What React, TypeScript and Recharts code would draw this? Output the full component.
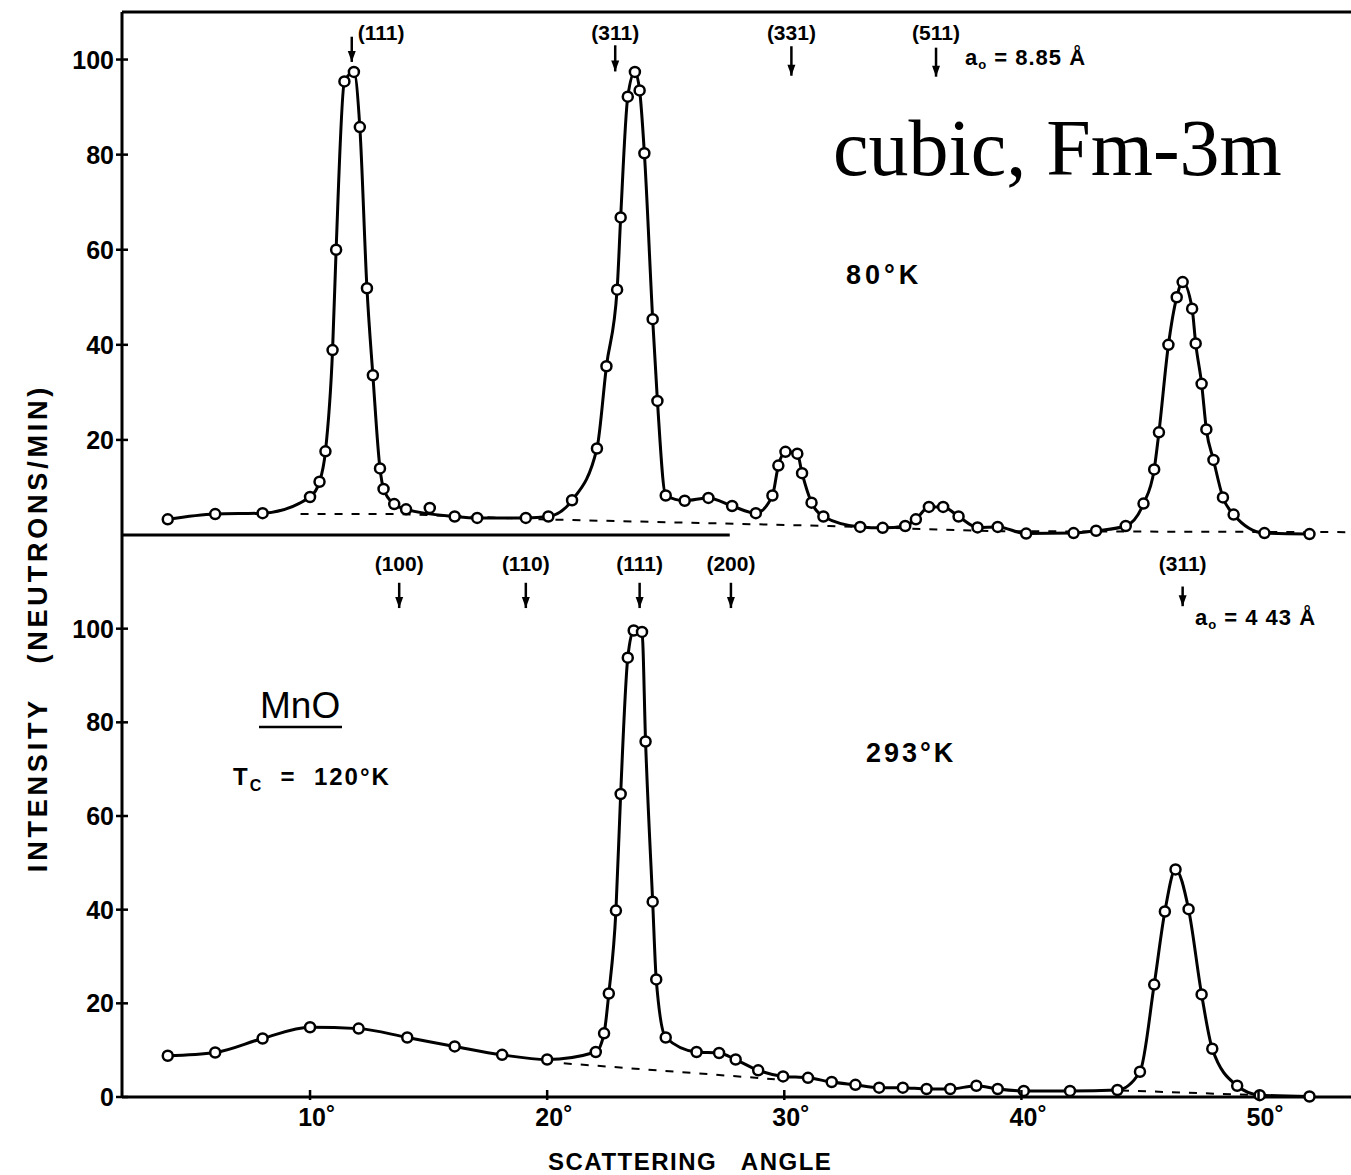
import React from "react";
import { ComposedChart, Line, XAxis, YAxis, ReferenceLine, ReferenceDot } from "recharts";

const X_MIN = 2.07;
const X_MAX = 53.9;

// 80°K run
const lowAngle = [4.0, 6.0, 8.0, 10.0, 10.4, 10.65, 10.95, 11.1, 11.45, 11.85, 12.1, 12.4, 12.65, 12.95, 13.1, 13.55, 14.05, 16.1, 17.05, 19.1, 20.05, 21.05, 22.1, 22.5, 22.95, 23.1, 23.4, 23.7, 23.9, 24.1, 24.45, 24.65, 25.0, 25.8, 26.8, 27.8, 28.8, 29.5, 29.75, 30.05, 30.55, 30.75, 31.15, 31.65, 33.2, 34.15, 35.1, 35.55, 36.1, 36.7, 37.35, 38.15, 39.0, 40.2, 42.2, 43.15, 44.4, 45.15, 45.6, 45.8, 46.2, 46.55, 46.8, 47.2, 47.35, 47.6, 47.8, 48.1, 48.5, 48.95, 50.25, 52.15];
const lowCounts = [3.3, 4.4, 4.6, 8.0, 11.2, 17.6, 38.9, 60.0, 95.4, 97.4, 85.8, 51.9, 33.6, 14.0, 9.7, 6.5, 5.4, 3.9, 3.6, 3.6, 3.9, 7.3, 18.2, 35.5, 51.6, 66.8, 92.2, 97.4, 93.5, 80.3, 45.4, 28.2, 8.3, 7.2, 7.8, 6.1, 4.6, 8.3, 14.6, 17.5, 17.1, 13.0, 6.8, 3.9, 1.7, 1.5, 1.9, 3.3, 5.9, 5.9, 3.9, 1.6, 1.7, 0.3, 0.4, 0.9, 1.9, 6.6, 13.8, 21.6, 40.0, 50.0, 53.2, 47.6, 40.3, 31.8, 22.2, 15.8, 7.9, 4.3, 0.4, 0.2];
const lowStrayAngle = [15.05];
const lowStrayCounts = [5.7];
const lowBgAngle = [9.6, 13.8, 19.7, 31.9, 38.7, 53.9];
const lowBgCounts = [4.4, 4.4, 3.3, 1.9, 0.8, 0.6];

// 293°K run
const roomAngle = [4.0, 6.0, 8.0, 10.0, 12.05, 14.1, 16.1, 18.1, 20.0, 22.05, 22.4, 22.6, 22.9, 23.1, 23.4, 23.65, 24.0, 24.15, 24.45, 24.6, 25.0, 26.3, 27.25, 27.95, 28.9, 29.95, 31.0, 32.0, 33.0, 34.0, 35.0, 36.0, 37.0, 38.1, 39.0, 40.1, 42.05, 44.05, 45.0, 45.6, 46.05, 46.5, 47.05, 47.6, 48.05, 49.1, 50.05, 52.15];
const roomCounts = [8.8, 9.5, 12.5, 14.9, 14.6, 12.7, 10.8, 9.0, 8.0, 9.6, 13.6, 22.1, 39.8, 64.7, 93.8, 99.6, 99.3, 75.9, 41.7, 25.1, 12.7, 9.6, 9.4, 8.0, 5.7, 4.4, 4.1, 3.2, 2.6, 2.0, 2.0, 1.7, 1.7, 2.4, 1.7, 1.3, 1.3, 1.5, 5.4, 24.0, 39.6, 48.6, 40.1, 21.9, 10.3, 2.4, 0.4, 0.1];
const roomBgAngle = [20.7, 29.6, 37.0, 44.2, 50.5];
const roomBgCounts = [7.2, 3.8, null, 1.4, 0.3];

// reflection markers
const lowPeakLabels = ["(111)", "(311)", "(331)", "(511)"];
const lowPeakAngle = [11.76, 22.87, 30.3, 36.4];
const lowPeakTip = [99.5, 97.5, 96.6, 96.4];
const lowPeakTail = [104.8, 103.0, 102.8, 102.5];
const lowPeakAnchor = ["start", "middle", "middle", "middle"];
const lowLabelLevel = 104.2;

const roomPeakLabels = ["(100)", "(110)", "(111)", "(200)", "(311)"];
const roomPeakAngle = [13.76, 19.1, 23.9, 27.75, 46.8];
const roomPeakTip = [104.4, 104.4, 104.4, 104.4, 104.8];
const roomPeakTail = [109.8, 109.8, 109.8, 109.8, 109.0];
const roomLabelLevel = 112.3;

const lowYTicks = [20, 40, 60, 80, 100];
const roomYTicks = [0, 20, 40, 60, 80, 100];
const angleTicks = [10, 20, 30, 40, 50];

const FONT = "'Liberation Sans', Arial, sans-serif";

const toPts = (xs: number[], ys: (number | null)[]) => xs.map((a, i) => ({ a, v: ys[i] }));

const dotStyle = { r: 5, fill: "#fff", stroke: "#000", strokeWidth: 2.5 };

const YTick = (props: any) => {
  const { x, y, payload } = props;
  return (
    <g>
      <line x1={x - 6} x2={x + 6} y1={y} y2={y} stroke="#000" strokeWidth={2.5} />
      <text x={x - 8} y={y} dy={9} textAnchor="end" fontFamily={FONT} fontWeight={700} fontSize={25} fill="#000">
        {payload.value}
      </text>
    </g>
  );
};

const XTick = (props: any) => {
  const { x, y, payload } = props;
  return (
    <g>
      <line x1={x} x2={x} y1={y - 7} y2={y + 3} stroke="#000" strokeWidth={2.5} />
      <text x={x + 2} y={y + 29} textAnchor="middle" fontFamily={FONT} fontWeight={700} fontSize={25} fill="#000">
        {payload.value}
      </text>
      <text x={x + 16} y={y + 24} fontFamily={FONT} fontWeight={700} fontSize={22} fill="#000">
        °
      </text>
    </g>
  );
};

const arrowHead = (p: any) => (
  <path d={`M${p.cx - 4},${p.cy - 11} L${p.cx + 4},${p.cy - 11} L${p.cx},${p.cy} Z`} fill="#000" />
);

const peakLabel = (text: string, anchor: string) => (p: any) => (
  <text
    x={anchor === "start" ? p.cx + 6 : p.cx}
    y={p.cy}
    textAnchor={anchor}
    fontFamily={FONT}
    fontWeight={700}
    fontSize={21}
    fill="#000"
  >
    {text}
  </text>
);

const markers = (
  labels: string[],
  angles: number[],
  tips: number[],
  tails: number[],
  level: number,
  anchors?: string[]
) =>
  labels.flatMap((lab, i) => [
    <ReferenceLine
      key={`s${i}`}
      segment={[{ x: angles[i], y: tails[i] }, { x: angles[i], y: tips[i] }]}
      stroke="#000"
      strokeWidth={2.5}
    />,
    <ReferenceDot key={`h${i}`} x={angles[i]} y={tips[i]} r={1} shape={arrowHead} />,
    <ReferenceDot
      key={`l${i}`}
      x={angles[i]}
      y={level}
      r={1}
      shape={peakLabel(lab, anchors ? anchors[i] : "middle")}
    />,
  ]);

const App = () => {
  const lowCurve = toPts(lowAngle, lowCounts);
  const lowStray = toPts(lowStrayAngle, lowStrayCounts);
  const lowBg = toPts(lowBgAngle, lowBgCounts);
  const roomCurve = toPts(roomAngle, roomCounts);
  const roomBg = toPts(roomBgAngle, roomBgCounts);

  return (
    <div style={{ position: "absolute", left: 0, top: 0, width: 1351, height: 1175, background: "#fff", overflow: "hidden" }}>
      <div style={{ position: "absolute", left: 0, top: 0 }}>
        <ComposedChart width={1351} height={545} margin={{ top: 12, right: 0, bottom: 10, left: 121 }}>
          <XAxis dataKey="a" type="number" domain={[X_MIN, X_MAX]} allowDataOverflow hide />
          <YAxis
            type="number"
            domain={[0, 110]}
            ticks={lowYTicks}
            width={1}
            tickSize={0}
            tickMargin={0}
            tick={<YTick />}
            axisLine={{ stroke: "#000", strokeWidth: 3 }}
          />
          <ReferenceLine y={110} stroke="#000" strokeWidth={3} />
          <ReferenceLine segment={[{ x: X_MIN, y: 0 }, { x: 27.7, y: 0 }]} stroke="#000" strokeWidth={3} />
          <Line data={lowBg} dataKey="v" type="linear" stroke="#000" strokeWidth={2} strokeDasharray="8 9" dot={false} isAnimationActive={false} />
          <Line data={lowCurve} dataKey="v" type="monotone" stroke="#000" strokeWidth={3} dot={dotStyle} isAnimationActive={false} />
          <Line data={lowStray} dataKey="v" stroke="none" dot={dotStyle} isAnimationActive={false} />
          {markers(lowPeakLabels, lowPeakAngle, lowPeakTip, lowPeakTail, lowLabelLevel, lowPeakAnchor)}
        </ComposedChart>
      </div>
      <div style={{ position: "absolute", left: 0, top: 525 }}>
        <ComposedChart width={1351} height={650} margin={{ top: 10, right: 0, bottom: 77, left: 121 }}>
          <XAxis
            dataKey="a"
            type="number"
            domain={[X_MIN, X_MAX]}
            allowDataOverflow
            ticks={angleTicks}
            height={1}
            tickSize={0}
            tickMargin={0}
            tick={<XTick />}
            axisLine={{ stroke: "#000", strokeWidth: 3 }}
          />
          <YAxis
            type="number"
            domain={[0, 120]}
            ticks={roomYTicks}
            width={1}
            tickSize={0}
            tickMargin={0}
            tick={<YTick />}
            axisLine={{ stroke: "#000", strokeWidth: 3 }}
          />
          <Line data={roomBg} dataKey="v" type="linear" stroke="#000" strokeWidth={2} strokeDasharray="8 9" dot={false} connectNulls={false} isAnimationActive={false} />
          <Line data={roomCurve} dataKey="v" type="monotone" stroke="#000" strokeWidth={3} dot={dotStyle} isAnimationActive={false} />
          {markers(roomPeakLabels, roomPeakAngle, roomPeakTip, roomPeakTail, roomLabelLevel)}
        </ComposedChart>
      </div>
      <svg
        width={1351}
        height={1175}
        style={{ position: "absolute", left: 0, top: 0, pointerEvents: "none" }}
      >
        <g fontFamily={FONT} fontWeight={700} fill="#000">
          <text x={833} y={175} fontFamily="'Liberation Serif', 'Times New Roman', serif" fontWeight={400} fontSize={80}>
            cubic, Fm-3m
          </text>
          <text x={965} y={65} fontSize={22} letterSpacing={1} style={{ whiteSpace: "pre" }}>
            <tspan>a</tspan>
            <tspan fontSize={13} dy={4}>o</tspan>
            <tspan dy={-4}> = 8.85 Å</tspan>
          </text>
          <text x={846} y={284} fontSize={27} letterSpacing={4}>80°K</text>
          <text x={1195} y={625} fontSize={22} letterSpacing={1} style={{ whiteSpace: "pre" }}>
            <tspan>a</tspan>
            <tspan fontSize={13} dy={4}>o</tspan>
            <tspan dy={-4}> = 4 43 Å</tspan>
          </text>
          <text x={866} y={762} fontSize={27} letterSpacing={3}>293°K</text>
          <text x={260} y={718} fontSize={37} fontWeight={400}>MnO</text>
          <line x1={259} x2={342} y1={727} y2={727} stroke="#000" strokeWidth={2.5} />
          <text x={233} y={785} fontSize={24} letterSpacing={2} style={{ whiteSpace: "pre" }}>
            <tspan>T</tspan>
            <tspan fontSize={16} dy={6}>C</tspan>
            <tspan dy={-6}>  =  120°K</tspan>
          </text>
          <text x={548} y={1170} fontSize={24} letterSpacing={1.5} style={{ whiteSpace: "pre" }}>
            SCATTERING   ANGLE
          </text>
          <text
            x={47}
            y={628}
            transform="rotate(-90 47 628)"
            textAnchor="middle"
            fontSize={27}
            letterSpacing={3.8}
            style={{ whiteSpace: "pre" }}
          >
            INTENSITY   (NEUTRONS/MIN)
          </text>
        </g>
      </svg>
    </div>
  );
};

export default App;
